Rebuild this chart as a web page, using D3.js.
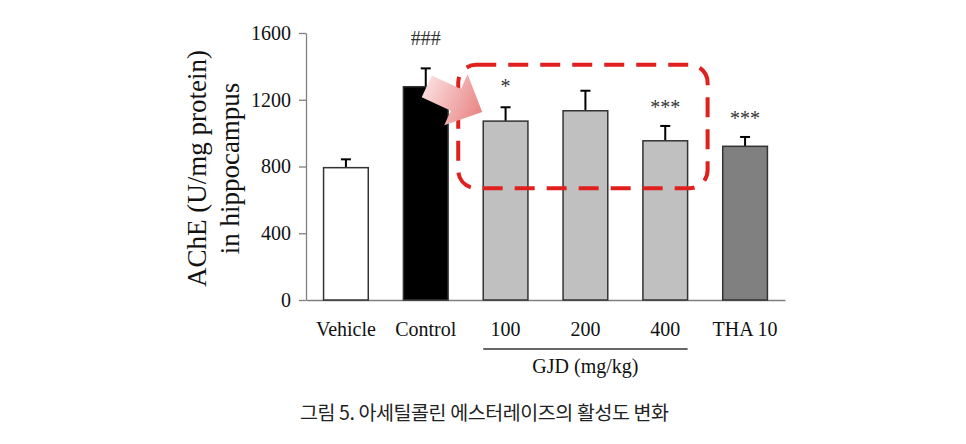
<!DOCTYPE html>
<html>
<head>
<meta charset="utf-8">
<script src="https://cdn.jsdelivr.net/npm/d3@7"></script>
<style>
  body { margin: 0; background: #fff; }
  svg { display: block; }
</style>
</head>
<body>
<div id="chart"></div>
<script>
// data
var groups = ["Vehicle", "Control", "100", "200", "400", "THA 10"];
var meanValues = [793, 1278, 1072, 1134, 954, 921];
var errValues = [50, 110, 83, 120, 89, 56];
var barFills = ["#ffffff", "#000000", "#c0c0c0", "#c0c0c0", "#c0c0c0", "#808080"];
var marks = ["", "###", "*", "", "***", "***"];
var yTicks = [0, 400, 800, 1200, 1600];
var gjdGroups = ["100", "200", "400"];

var W = 966, H = 444;
var margin = {top: 33, right: 181, bottom: 144, left: 306},
    width = W - margin.left - margin.right,
    height = H - margin.top - margin.bottom;

var svg = d3.select("#chart")
  .append("svg")
    .attr("width", W)
    .attr("height", H);

var g = svg.append("g")
    .attr("transform", "translate(" + margin.left + "," + margin.top + ")");

var x = d3.scaleBand()
    .domain(groups)
    .range([0, width])
    .paddingInner(0.44)
    .paddingOuter(0.22);

var y = d3.scaleLinear()
    .domain([0, 1600])
    .range([height, 0]);

var serif = "'Liberation Serif', 'Times New Roman', serif";

// y axis
var yAxis = g.append("g")
    .call(d3.axisLeft(y).tickValues(yTicks).tickFormat(d3.format("d"))
      .tickSize(7).tickSizeOuter(0).tickPadding(8));
yAxis.select(".domain").attr("stroke", "#808080").attr("stroke-width", 1.3);
yAxis.selectAll(".tick line").attr("stroke", "#808080").attr("stroke-width", 1.3);
yAxis.selectAll(".tick text")
    .style("font-family", serif)
    .style("font-size", "20px")
    .style("fill", "#111");

// x axis
var xAxis = g.append("g")
    .attr("transform", "translate(0," + height + ")")
    .call(d3.axisBottom(x).tickSize(0).tickSizeOuter(0).tickPadding(22));
xAxis.select(".domain").attr("stroke", "#808080").attr("stroke-width", 1.3);
xAxis.selectAll(".tick text")
    .style("font-family", serif)
    .style("font-size", "20px")
    .style("fill", "#111");

// error bars (upper only)
var err = g.selectAll(".err")
    .data(groups)
    .enter()
    .append("g")
      .attr("class", "err");
err.append("line")
    .attr("x1", function(d) { return x(d) + x.bandwidth() / 2; })
    .attr("x2", function(d) { return x(d) + x.bandwidth() / 2; })
    .attr("y1", function(d, i) { return y(meanValues[i]); })
    .attr("y2", function(d, i) { return y(meanValues[i] + errValues[i]); })
    .attr("stroke", "#000")
    .attr("stroke-width", 2);
err.append("line")
    .attr("x1", function(d) { return x(d) + x.bandwidth() / 2 - 5; })
    .attr("x2", function(d) { return x(d) + x.bandwidth() / 2 + 5; })
    .attr("y1", function(d, i) { return y(meanValues[i] + errValues[i]); })
    .attr("y2", function(d, i) { return y(meanValues[i] + errValues[i]); })
    .attr("stroke", "#000")
    .attr("stroke-width", 2);

// bars
g.selectAll(".bar")
    .data(groups)
    .enter()
    .append("rect")
      .attr("class", "bar")
      .attr("x", function(d) { return x(d); })
      .attr("y", function(d, i) { return y(meanValues[i]); })
      .attr("width", x.bandwidth())
      .attr("height", function(d, i) { return height - y(meanValues[i]); })
      .attr("fill", function(d, i) { return barFills[i]; })
      .attr("stroke", "#333")
      .attr("stroke-width", 1.5);

// significance marks
var markY = [0, 1555, 1265, 0, 1145, 1078];
g.selectAll(".mark")
    .data(groups)
    .enter()
    .append("text")
      .attr("class", "mark")
      .attr("x", function(d) { return x(d) + x.bandwidth() / 2; })
      .attr("y", function(d, i) { return y(markY[i]); })
      .attr("text-anchor", "middle")
      .attr("dominant-baseline", "middle")
      .style("font-family", serif)
      .style("font-size", "20px")
      .style("fill", "#333")
      .text(function(d, i) { return marks[i]; });

// GJD bracket line + label
var gx0 = x(gjdGroups[0]),
    gx1 = x(gjdGroups[gjdGroups.length - 1]) + x.bandwidth();
g.append("line")
    .attr("x1", gx0).attr("x2", gx1)
    .attr("y1", height + 49).attr("y2", height + 49)
    .attr("stroke", "#333")
    .attr("stroke-width", 1.5);
g.append("text")
    .attr("x", (gx0 + gx1) / 2)
    .attr("y", height + 73)
    .attr("text-anchor", "middle")
    .style("font-family", serif)
    .style("font-size", "20px")
    .style("fill", "#111")
    .text("GJD (mg/kg)");

// y title (two lines)
var yTitle = g.append("text")
    .attr("transform", "translate(" + (-100) + "," + (height / 2 + 2) + ") rotate(-90)")
    .attr("text-anchor", "middle")
    .style("font-family", serif)
    .style("font-size", "27px")
    .style("fill", "#111");
yTitle.append("tspan").attr("x", 0).attr("dy", 0).text("AChE (U/mg protein)");
yTitle.append("tspan").attr("x", 0).attr("dy", 33).text("in hippocampus");

// red dashed highlight box
var bx0 = x("100") - 25, bx1 = x("400") + x.bandwidth() + 20;
g.append("rect")
    .attr("x", bx0)
    .attr("y", y(1410))
    .attr("width", bx1 - bx0)
    .attr("height", y(670) - y(1410))
    .attr("rx", 18)
    .attr("fill", "none")
    .attr("stroke", "#e0201c")
    .attr("stroke-width", 4)
    .attr("stroke-dasharray", "20 12");

// pink arrow from Control to GJD 100
var defs = svg.append("defs");
var grad = defs.append("linearGradient")
    .attr("id", "arrowGrad")
    .attr("x1", "0%").attr("y1", "0%")
    .attr("x2", "100%").attr("y2", "0%");
grad.append("stop").attr("offset", "0%").attr("stop-color", "#fadada");
grad.append("stop").attr("offset", "100%").attr("stop-color", "#e98484");

var ax0 = x("Control") + x.bandwidth() / 2 + 1, ay0 = y(1280);
var ax1 = x("100") - 1, ay1 = y(1127);
var dx = ax1 - ax0, dy = ay1 - ay0;
var len = Math.sqrt(dx * dx + dy * dy);
var ang = Math.atan2(dy, dx) * 180 / Math.PI;
var shaftW = 12, headW = 28, headL = 29;
var arrowPts = [
  [0, -shaftW], [len - headL, -shaftW], [len - headL, -headW],
  [len, 0], [len - headL, headW], [len - headL, shaftW], [0, shaftW]
];
g.append("polygon")
    .attr("transform", "translate(" + ax0 + "," + ay0 + ") rotate(" + ang + ")")
    .attr("points", arrowPts.map(function(p) { return p.join(","); }).join(" "))
    .attr("fill", "url(#arrowGrad)");

// caption
svg.append("text")
    .attr("x", 300)
    .attr("y", 420)
    .style("font-family", "'Noto Sans CJK KR', sans-serif")
    .style("font-size", "19.5px")
    .style("letter-spacing", "-0.4px")
    .style("fill", "#222")
    .text("그림 5. 아세틸콜린 에스터레이즈의 활성도 변화");
</script>
</body>
</html>
